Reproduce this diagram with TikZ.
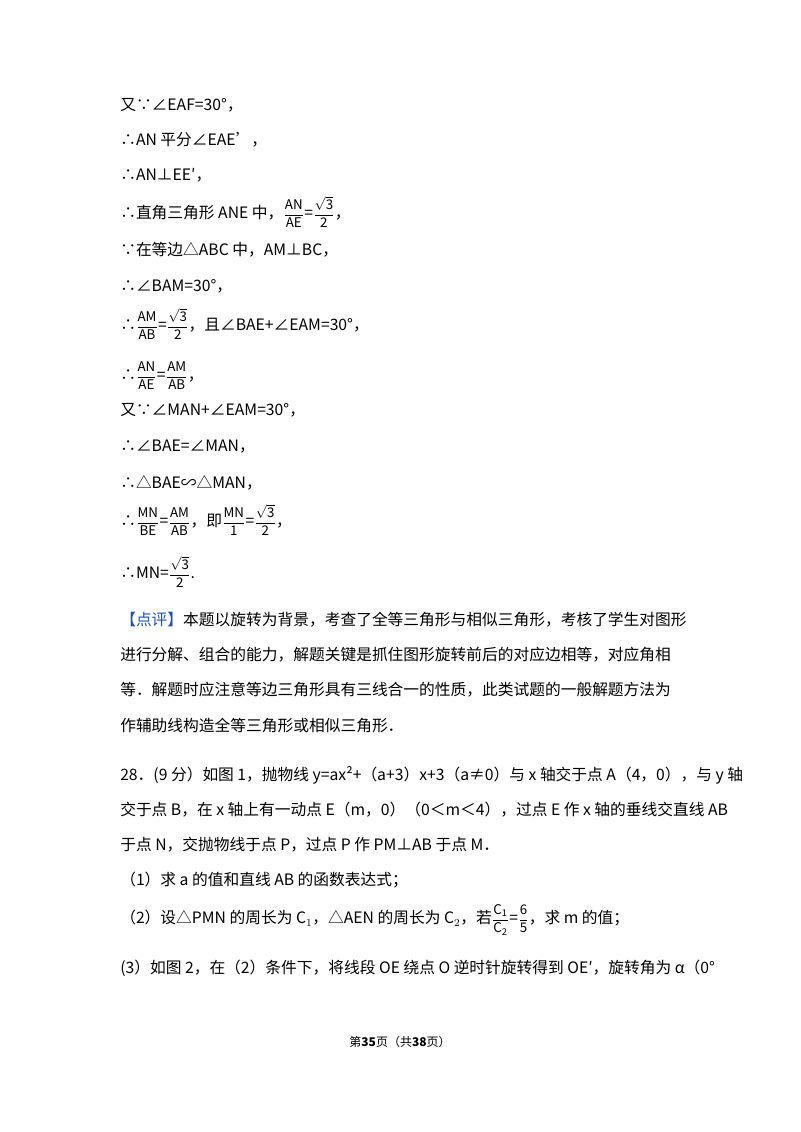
\documentclass[tikz,border=0pt]{standalone}
\usepackage{fontspec}
\setmainfont{Noto Sans CJK SC}
\usepackage{amsmath}
\begin{document}
\begin{tikzpicture}[x=0.75pt,y=-0.75pt,
  ln/.style={anchor=west,inner sep=0pt,font=\fontsize{11.8pt}{14pt}\selectfont}]
\useasboundingbox (0,0) rectangle (800,1132);
\newcommand{\fr}[2]{{\fontsize{10pt}{12pt}\selectfont$\dfrac{\mathrm{#1}}{\mathrm{#2}}$}}
\node[ln] (l1) at (120,105) {又∵∠EAF=30°，};
\node[ln] (l2) at (120,140) {∴AN 平分∠EAE\char"27，};
\node[ln] (l3) at (120,175) {∴AN⊥EE′，};
\node[ln] (l4) at (120,212) {∴直角三角形 ANE 中，\fr{AN}{AE}=\fr{\sqrt{3}}{2}，};
\node[ln] (l5) at (120,250) {∵在等边△ABC 中，AM⊥BC，};
\node[ln] (l6) at (120,286) {∴∠BAM=30°，};
\node[ln] (l7) at (120,324) {∴\fr{AM}{AB}=\fr{\sqrt{3}}{2}，且∠BAE+∠EAM=30°，};
\node[ln] (l8) at (120,376) {∴\fr{AN}{AE}=\fr{AM}{AB}，};
\node[ln] (l9) at (120,410) {又∵∠MAN+∠EAM=30°，};
\node[ln] (l10) at (120,447) {∴∠BAE=∠MAN，};
\node[ln] (l11) at (120,483) {∴△BAE∽△MAN，};
\node[ln] (l12) at (120,520) {∴\fr{MN}{BE}=\fr{AM}{AB}，即\fr{MN}{1}=\fr{\sqrt{3}}{2}，};
\node[ln] (l13) at (120,572) {∴MN=\fr{\sqrt{3}}{2}.};
\node[ln] (p1) at (120,620) {\textcolor[HTML]{2050C0}{【点评】}本题以旋转为背景，考查了全等三角形与相似三角形，考核了学生对图形};
\node[ln] (p2) at (120,655) {进行分解、组合的能力，解题关键是抓住图形旋转前后的对应边相等，对应角相};
\node[ln] (p3) at (120,690) {等．解题时应注意等边三角形具有三线合一的性质，此类试题的一般解题方法为};
\node[ln] (p4) at (120,725) {作辅助线构造全等三角形或相似三角形．};
\node[ln] (q1) at (120,775) {28．(9 分）如图 1，抛物线 y=ax²+（a+3）x+3（a≠0）与 x 轴交于点 A（4，0），与 y 轴};
\node[ln] (q2) at (120,810) {交于点 B，在 x 轴上有一动点 E（m，0）（0＜m＜4），过点 E 作 x 轴的垂线交直线 AB};
\node[ln] (q3) at (120,845) {于点 N，交抛物线于点 P，过点 P 作 PM⊥AB 于点 M．};
\node[ln] (q4) at (120,880) {（1）求 a 的值和直线 AB 的函数表达式；};
\node[ln] (q5) at (120,920) {（2）设△PMN 的周长为 C$_1$，△AEN 的周长为 C$_2$，若\fr{C_1}{C_2}=\fr{6}{5}，求 m 的值；};
\node[ln] (q6) at (120,968) {(3）如图 2，在（2）条件下，将线段 OE 绕点 O 逆时针旋转得到 OE′，旋转角为 α（0°};
\node[anchor=center,inner sep=0pt,font=\fontsize{9pt}{11pt}\selectfont] (ft) at (400,1042) {第\textbf{35}页（共\textbf{38}页）};
\end{tikzpicture}
\end{document}
